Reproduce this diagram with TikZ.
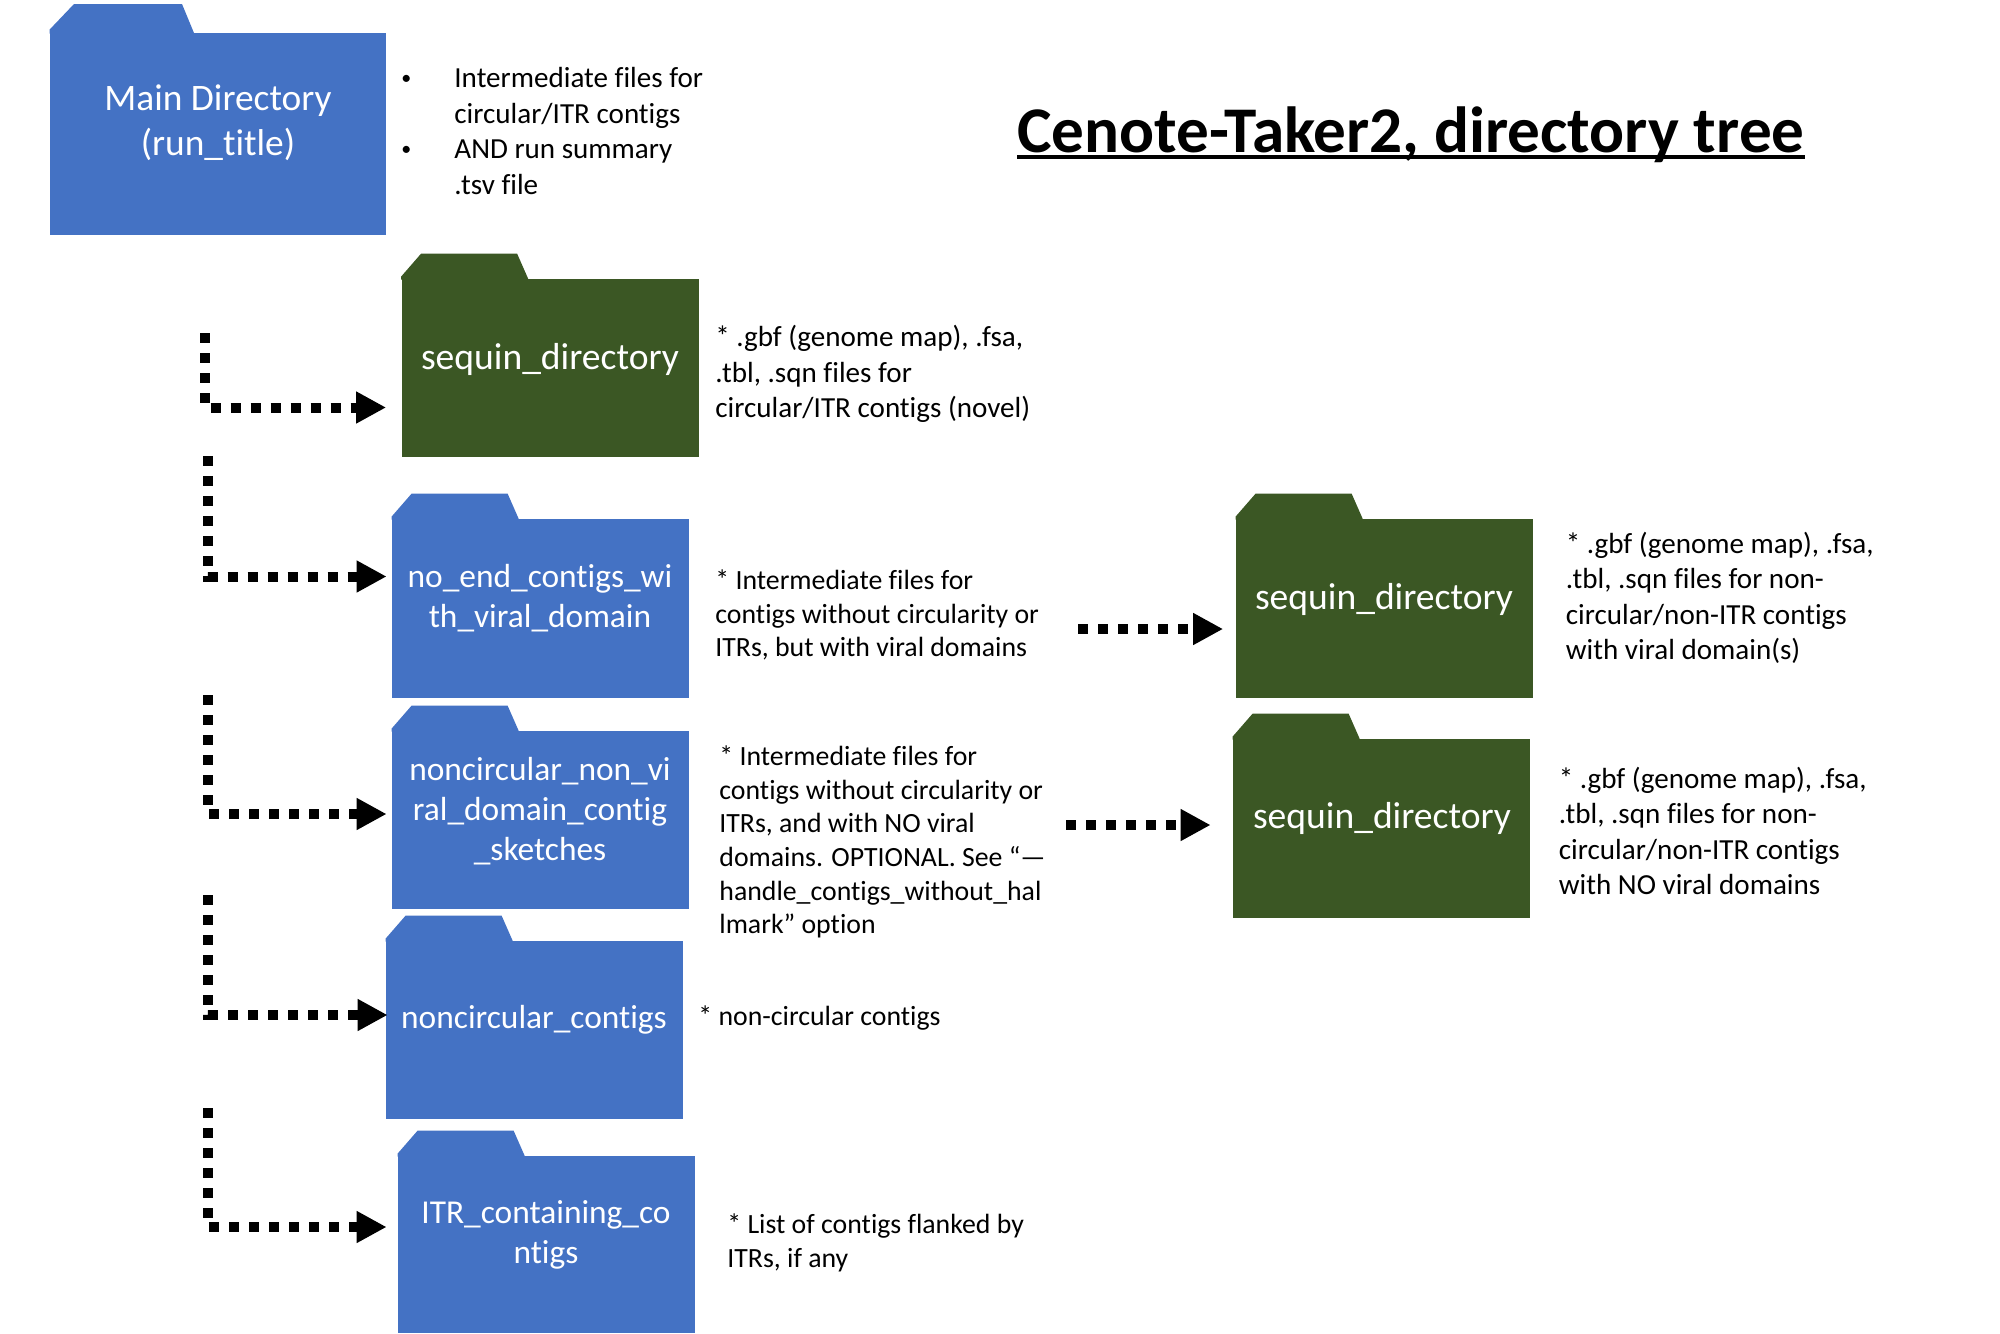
\documentclass[tikz,border=0pt]{standalone}
\usepackage{fontspec}
\setmainfont[Ligatures=NoCommon]{Carlito}
\usetikzlibrary{arrows.meta,calc}
\definecolor{dirblue}{HTML}{4472C4}
\definecolor{dirgreen}{HTML}{3B5724}
\newcommand{\smallbullet}{\llap{\raisebox{1.5pt}{\fontsize{10pt}{10pt}\selectfont\textbullet}\hspace{21.5pt}}}

\begin{document}
\begin{tikzpicture}[
    x=0.5pt, y=-0.5pt,
    folder/.style={rectangle, inner sep=0pt, minimum width=148.5pt},
    bluedir/.style={folder, fill=dirblue},
    greendir/.style={folder, fill=dirgreen},
    dirlabel/.style={text=white, align=center, font=\fontsize{16.7pt}{20pt}\selectfont},
    seqlabel/.style={dirlabel, font=\fontsize{18.8pt}{22pt}\selectfont},
    note/.style={anchor=west, inner sep=0pt, align=left, font=\fontsize{13.9pt}{16.8pt}\selectfont},
    widenote/.style={note, font=\fontsize{14.55pt}{17.7pt}\selectfont},
    dotarrow/.style={-{Triangle[length=15pt,width=15pt]}, line width=5pt, dash pattern=on 5pt off 5pt},
]
    \useasboundingbox (0,0) rectangle (2000,1333);

    % folder bodies
    \node[bluedir, minimum width=168pt, minimum height=101pt] (main) at (218,134) {};
    \node[greendir, minimum height=89pt] (seqA) at (550,368) {};
    \node[bluedir, minimum height=89.5pt] (noend) at (540.5,608.5) {};
    \node[bluedir, minimum height=89pt] (nonviral) at (540.5,820) {};
    \node[bluedir, minimum height=89pt] (noncirc) at (534.5,1030) {};
    \node[bluedir, minimum height=88.5pt] (itr) at (546.5,1244.5) {};
    \node[greendir, minimum height=89.5pt] (seqB) at (1384.5,608.5) {};
    \node[greendir, minimum height=89.5pt] (seqC) at (1381.5,828.5) {};

    % folder tabs, run one unit into the body so no seam shows
    \fill[dirblue] ($(main.north west)+(0,-3)$) -- (74,4) -- (182,4) -- (194,33) -- ++(0,1) -- ($(main.north west)+(0,1)$) -- cycle;
    \foreach \nm/\col in {seqA/dirgreen, noend/dirblue, nonviral/dirblue, noncirc/dirblue, itr/dirblue, seqB/dirgreen, seqC/dirgreen}
        \fill[\col] ($(\nm.north west)+(0,-2)$) -- ++(20,-23) -- ++(96,0) -- ++(11,25) -- ++(0,1) -- ($(\nm.north west)+(0,1)$) -- cycle;

    % folder names
    \node[dirlabel, font=\fontsize{18.7pt}{22.3pt}\selectfont] (mainname) at (218,123) {Main Directory\\(run\_title)};
    \node[seqlabel] (seqAname) at (550,359) {sequin\_directory};
    \node[dirlabel] (noendname) at (540,598) {no\_end\_contigs\_wi\\th\_viral\_domain};
    \node[dirlabel] (nonviralname) at (540,811) {noncircular\_non\_vi\\ral\_domain\_contig\\\_sketches};
    \node[dirlabel] (noncircname) at (534,1020) {noncircular\_contigs};
    \node[dirlabel] (itrname) at (546,1235) {ITR\_containing\_co\\ntigs};
    \node[seqlabel] (seqBname) at (1384,599) {sequin\_directory};
    \node[seqlabel] (seqCname) at (1382,818) {sequin\_directory};

    % notes
    \node[widenote] (mainnote) at (454,131) {\smallbullet Intermediate files for\\circular/ITR contigs\\\smallbullet AND run summary\\.tsv file};
    \node[widenote] (seqAnote) at (715,374) {* .gbf (genome map), .fsa,\\.tbl, .sqn files for\\circular/ITR contigs (novel)};
    \node[note] (noendnote) at (715,615) {* Intermediate files for\\contigs without circularity or\\ITRs, but with viral domains};
    \node[note] (nonviralnote) at (719,842) {* Intermediate files for\\contigs without circularity or\\ITRs, and with NO viral\\domains. OPTIONAL. See “—\\handle\_contigs\_without\_hal\\lmark” option};
    \node[note] (noncircnote) at (698,1018) {* non-circular contigs};
    \node[note] (itrnote) at (727,1243) {* List of contigs flanked by\\ITRs, if any};
    \node[widenote] (seqBnote) at (1565.5,598) {* .gbf (genome map), .fsa,\\.tbl, .sqn files for non-\\circular/non-ITR contigs\\with viral domain(s)};
    \node[widenote] (seqCnote) at (1558.5,831) {* .gbf (genome map), .fsa,\\.tbl, .sqn files for non-\\circular/non-ITR contigs\\with NO viral domains};

    \node[inner sep=0pt, font=\fontsize{32.6pt}{36pt}\selectfont\bfseries] (heading) at (1411,133) {\vtop{\hbox{Cenote-Taker2, directory tree}\kern-3.75pt\hrule height 1.8pt}};

    % free ends of the connectors
    \coordinate (startA) at (205,333);
    \coordinate (startB) at (208,456);
    \coordinate (startC) at (208,695);
    \coordinate (startD) at (208,895);
    \coordinate (startE) at (208,1108);
    \coordinate (startF) at (1078,629);
    \coordinate (startG) at (1066,825);

    \draw[dotarrow, shorten >=7.5pt] (startA) |- ([yshift=-19.75pt]seqA.west);
    \draw[dotarrow, shorten >=2.5pt] (startB) |- ([yshift=16pt]noend.west);
    \draw[dotarrow, shorten >=2.5pt] (startC) |- ([yshift=3pt]nonviral.west);
    \draw[dotarrow, shorten >=-1pt] (startD) |- ([yshift=7.5pt]noncirc.west);
    \draw[dotarrow, shorten >=5.5pt] (startE) |- ([yshift=8.75pt]itr.west);
    \draw[dotarrow, shorten >=6.25pt] (startF) -- (startF -| seqB.west);
    \draw[dotarrow, shorten >=11pt] (startG) -- (startG -| seqC.west);
\end{tikzpicture}
\end{document}
